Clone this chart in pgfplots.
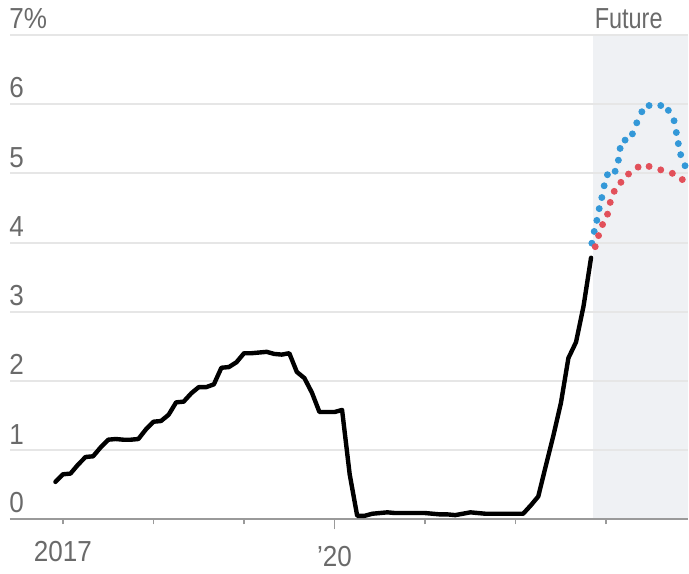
\documentclass[border=0pt]{standalone}
\usepackage{pgfplots}
\pgfplotsset{compat=1.18}
\usepackage{graphicx}
\usepackage{fontspec}
\setmainfont{Liberation Sans}[FakeStretch=0.9]
\definecolor{txtgray}{HTML}{6A6A6A}
\definecolor{gridgray}{HTML}{E6E6E6}
\definecolor{axisgray}{HTML}{9A9A9A}
\definecolor{shadecol}{HTML}{EFF1F4}
\definecolor{fblue}{HTML}{3398D8}
\definecolor{fred}{HTML}{E2505A}
\begin{document}
\begin{tikzpicture}
\begin{axis}[
  set layers,
  at={(0,0)}, anchor=south west,
  scale only axis, width=339.5pt, height=242.5pt,
  xmin=2016.415, xmax=2023.904, ymin=0, ymax=7,
  clip=false,
  axis line style={draw=none},
  ymajorgrids, grid style={gridgray, line width=1pt},
  ytick={0,...,7}, yticklabels={0,1,2,3,4,5,6,7\%},
  ytick style={draw=none, overlay},
  yticklabel style={anchor=south west, inner sep=0pt, yshift=2.8pt, xshift=2pt},
  xtick={2017,2018,2019,2021,2022,2023}, xticklabels={2017,,,,,},
  extra x ticks={2020}, extra x tick labels={’20},
  extra x tick style={major tick length=5pt, grid=none},
  xtick pos=bottom, tick align=outside, major tick length=2.5pt,
  xtick style={axisgray, line width=0.8pt},
  xticklabel style={yshift=-5pt},
  tick label style={font=\fontsize{14.5}{16}\selectfont, text=txtgray},
]
\begin{pgfonlayer}{axis background}
\fill[shadecol] (axis cs:2022.85,0) rectangle (axis cs:2023.904,7);
\end{pgfonlayer}
\draw[axisgray, line width=1pt] (axis cs:2016.415,0) -- (axis cs:2023.904,0);
\node[anchor=south west, inner sep=0pt, text=txtgray, font=\fontsize{14.5}{16}\selectfont] at (axis cs:2022.87,7) [yshift=2.8pt] {\scalebox{0.9}[1]{Future}};

\addplot[black, line width=2.2pt, line join=round, line cap=round] coordinates {
(2016.917,0.54) (2017.000,0.65) (2017.083,0.66) (2017.167,0.79) (2017.250,0.90)
(2017.333,0.91) (2017.417,1.04) (2017.500,1.15) (2017.583,1.16) (2017.667,1.15)
(2017.750,1.15) (2017.833,1.16) (2017.917,1.30) (2018.000,1.41) (2018.083,1.42)
(2018.167,1.51) (2018.250,1.69) (2018.333,1.70) (2018.417,1.82) (2018.500,1.91)
(2018.583,1.91) (2018.667,1.95) (2018.750,2.19) (2018.833,2.20) (2018.917,2.27)
(2019.000,2.40) (2019.083,2.40) (2019.167,2.41) (2019.250,2.42) (2019.333,2.39)
(2019.417,2.38) (2019.500,2.40) (2019.583,2.13) (2019.667,2.04) (2019.750,1.83)
(2019.833,1.55) (2019.917,1.55) (2020.000,1.55) (2020.083,1.58) (2020.167,0.65)
(2020.250,0.05) (2020.333,0.05) (2020.417,0.08) (2020.500,0.09) (2020.583,0.10)
(2020.667,0.09) (2020.750,0.09) (2020.833,0.09) (2020.917,0.09) (2021.000,0.09)
(2021.083,0.08) (2021.167,0.07) (2021.250,0.07) (2021.333,0.06) (2021.417,0.08)
(2021.500,0.10) (2021.583,0.09) (2021.667,0.08) (2021.750,0.08) (2021.833,0.08)
(2021.917,0.08) (2022.000,0.08) (2022.083,0.08) (2022.167,0.20) (2022.250,0.33)
(2022.333,0.77) (2022.417,1.21) (2022.500,1.68) (2022.583,2.33) (2022.667,2.56)
(2022.750,3.08) (2022.833,3.78)
};

\addplot[only marks, mark=*, mark size=1.5pt, fblue, mark options={draw=none, fill=fblue}] coordinates {
(2022.842,3.99) (2022.868,4.16) (2022.897,4.32) (2022.923,4.49) (2022.952,4.65)
(2022.978,4.82) (2023.014,4.98) (2023.099,5.03) (2023.135,5.19) (2023.154,5.36)
(2023.209,5.48) (2023.290,5.57) (2023.338,5.73) (2023.394,5.89) (2023.474,5.98)
(2023.603,5.98) (2023.687,5.91) (2023.750,5.76) (2023.775,5.59) (2023.797,5.43)
(2023.823,5.27) (2023.871,5.11)
};
\addplot[only marks, mark=*, mark size=1.5pt, fred, mark options={draw=none, fill=fred}] coordinates {
(2022.879,3.94) (2022.916,4.10) (2022.960,4.26) (2023.015,4.41) (2023.045,4.58)
(2023.089,4.74) (2023.163,4.87) (2023.247,4.99) (2023.353,5.09) (2023.474,5.10)
(2023.603,5.05) (2023.731,5.00) (2023.841,4.91)
};
\end{axis}
\path (-5pt,-24.5pt) (339.5pt,260pt);
\end{tikzpicture}
\end{document}
